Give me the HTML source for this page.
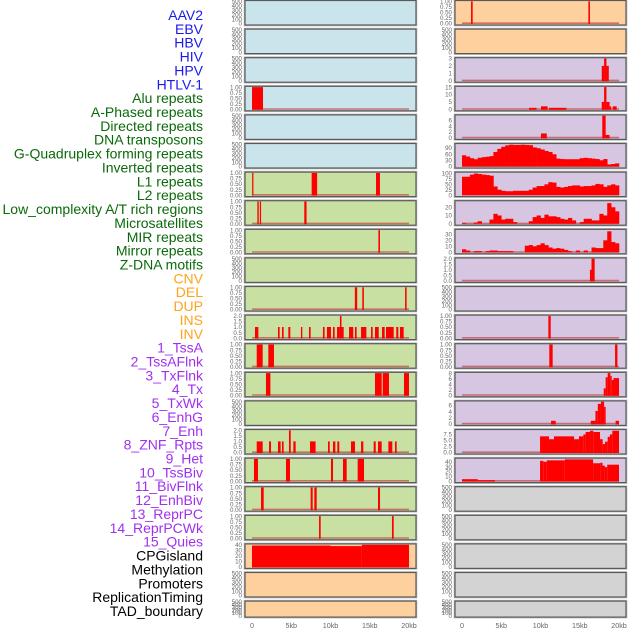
<!DOCTYPE html>
<html><head><meta charset="utf-8">
<style>
html,body{margin:0;padding:0;background:#fff;}
svg{display:block;font-family:"Liberation Sans",sans-serif;}
</style></head>
<body>
<svg id="chart" width="630" height="630" viewBox="0 0 630 630" xmlns="http://www.w3.org/2000/svg">
<g id="labels"></g>
<g id="panels"></g>
<g id="xaxis"></g>
</svg>
<script>
// ---------- data ----------
const trackLabels = ["AAV2","EBV","HBV","HIV","HPV","HTLV-1","Alu repeats","A-Phased repeats","Directed repeats","DNA transposons","G-Quadruplex forming repeats","Inverted repeats","L1 repeats","L2 repeats","Low_complexity A/T rich regions","Microsatellites","MIR repeats","Mirror repeats","Z-DNA motifs","CNV","DEL","DUP","INS","INV","1_TssA","2_TssAFlnk","3_TxFlnk","4_Tx","5_TxWk","6_EnhG","7_Enh","8_ZNF_Rpts","9_Het","10_TssBiv","11_BivFlnk","12_EnhBiv","13_ReprPC","14_ReprPCWk","15_Quies","CPGisland","Methylation","Promoters","ReplicationTiming","TAD_boundary"];
const labelGroups = [6,13,5,15,5];
const xTickValues = [0,5,10,15,20];
const xTickLabels = ["0","5kb","10kb","15kb","20kb"];

// tick sets
const tkEmpty = [0,100,200,300,400,500];
const tk01 = [0,0.25,0.5,0.75,1];
const tk02 = [0,0.5,1,1.5,2];
const tk0_3 = [0,1,2,3];
const tk0_15 = [0,5,10,15];
const tk0_6 = [0,2,4,6];
const tk0_90 = [0,30,60,90];
const tk0_100 = [0,25,50,75,100];
const tk0_20 = [0,10,20];
const tk0_30 = [0,10,20,30];
const tk0_8 = [0,2,4,6,8];
const tk0_75 = [0,2.5,5,7.5];
const tk0_40 = [0,10,20,30,40];

// segment data [startKb, endKb, value]
const segAAV2=[],segEBV=[],segHBV=[],segHPV=[],segHTLV=[];
const segHIV=[[0,1.4,1]];
const segAlu=[[0.02,0.18,1],[7.6,8.3,1],[15.8,16.3,1]];
const segAPhased=[[0.68,0.86,1],[1.0,1.15,1],[6.66,6.95,1]];
const segDirected=[[16.1,16.3,1]];
const segDNAtrans=[];
const segGQuadL=[[13.1,13.4,1],[14.05,14.25,1],[19.5,19.7,1]];
const segInvertedL=[[0.38,0.81,1],[3.31,3.52,1],[3.82,4.03,1],[4.63,4.88,1],[6.24,6.41,1],[7.26,7.47,1],[9.04,9.25,1],[9.55,10.06,1],[10.32,10.53,1],[10.83,11.2,1],[11.2,11.4,2],[11.4,11.68,1],[12.36,12.9,1],[13.12,13.33,1],[13.89,14.57,1],[15.16,15.37,1],[15.67,16.14,1],[16.56,16.9,1],[17.07,18.05,1],[18.38,18.64,1],[18.85,19.32,1]];
const segL1L=[[0.6,1.36,1],[2.08,2.8,1]];
const segL2L=[[1.78,2.34,1],[15.67,16.52,1],[16.65,17.45,1],[19.36,20,1]];
const segLowL=[];
const segMicroL=[[0.6,1.36,1],[2.17,2.42,1],[3.31,3.65,1],[3.82,4.03,1],[4.71,4.93,2],[5.27,5.56,1],[7.39,8.1,1],[9.68,9.9,1],[10.32,10.62,1],[10.87,11.12,1],[12.61,13.12,1],[13.89,14.18,1],[15.5,15.76,1],[16.05,16.52,1],[17.37,17.87,1],[18.22,18.43,1]];
const segMIRL=[[0.25,0.76,1],[4.33,4.84,1],[10.06,10.32,1],[11.59,12.06,1],[13.46,14.27,1]];
const segMirrorL=[[1.15,1.49,1],[7.47,7.73,1],[7.94,8.24,1],[16.05,16.31,1]];
const segZDNAL=[[8.54,8.75,1],[17.83,18.05,1]];
const segCNVL=[[0,10,38.5],[10,14,37.5],[14,20,39.8]];
const segDELL=[],segDUPL=[];

const segR0=[[1.15,1.36,1],[16.1,16.3,1]];
const segR1=[];
const segR2=[[17.8,18.1,2],[18.1,18.4,3],[18.4,18.7,2]];
const segR3=[[8.54,9.5,1],[10.06,10.9,2],[11.08,13.3,1],[17.8,18.1,5],[18.1,18.4,15],[18.4,18.8,5],[18.8,19.0,2],[19.2,19.7,2]];
const segR4=[[10.06,10.8,1.5],[17.87,18.3,7.5],[18.3,18.8,1]];
const profR5=[54,48,40,35,42,45,47,50,70,85,95,102,105,104,104,105,104,103,92,88,82,75,70,59,38,36,35,35,35,35,40,42,40,38,36,30,36,10,12,15];
const profR6=[85,85,95,100,98,95,93,90,40,25,20,18,18,20,20,20,20,25,35,42,42,50,60,58,38,35,38,42,45,45,40,42,42,45,52,50,38,45,50,45];
const profR7=[1,0,0,1.5,3,0,0,5,12,10,5,6,6,2,0,0,0,3,8,10,7,11,9,9,8,6,5,7,4,0,2,6,6,4,4,12,10,25,20,15];
const profR8=[5,3,0,2,2,0,2,3,3,2,2,2,2,0,0,0,11,12,10,12,15,12,8,6,7,6,4,2,0,3,0,3,0,8,7,7,20,35,17,15];
const segR9=[[16.3,16.5,1],[16.5,16.9,2]];
const segR10=[];
const segR11=[[11.0,11.3,1]];
const segR12=[[11.12,11.55,1],[19.5,19.8,1]];
const segR13=[[18.05,18.3,2.5],[18.3,18.56,6.5],[18.56,18.9,8],[18.9,19.07,7],[19.07,19.3,5.5],[19.3,20,6.2]];
const segR14=[[11.34,11.94,1],[16.4,17.0,1],[17.0,17.3,4.2],[17.3,17.7,6.5],[17.7,18.1,7.2],[18.1,18.3,5.5],[19.57,20,1]];
const segR15=[[9.94,11.08,6.7],[11.08,11.72,5.5],[11.72,14.27,6.7],[14.27,14.9,5.5],[14.9,15.46,6.7],[15.46,15.75,7.5],[15.75,16.31,8.5],[16.31,16.73,9],[16.73,17.58,8.5],[17.58,17.92,5.5],[17.92,18.22,3.5],[18.22,18.56,4.5],[18.56,18.85,6.5],[18.85,19.15,7.5],[19.15,20,9]];
const segR16=[[0,2.0,4],[2.0,4.2,2],[9.94,10.36,42],[10.36,10.8,40],[10.8,13.1,43],[13.1,16.7,45],[16.7,17.6,37],[17.6,17.9,38],[17.9,18.2,32],[18.2,18.5,29],[18.5,20,34]];
const segR17=[],segR18=[],segR19=[],segR20=[],segR21=[];

// column specs: [data, ticks, ymax, decimals, isProfile]
const leftTracks=[[segAAV2,tkEmpty,500,0],[segEBV,tkEmpty,500,0],[segHBV,tkEmpty,500,0],[segHIV,tk01,1,2],[segHPV,tkEmpty,500,0],[segHTLV,tkEmpty,500,0],
[segAlu,tk01,1,2],[segAPhased,tk01,1,2],[segDirected,tk01,1,2],[segDNAtrans,tkEmpty,500,0],[segGQuadL,tk01,1,2],[segInvertedL,tk02,2,1],[segL1L,tk01,1,2],[segL2L,tk01,1,2],[segLowL,tkEmpty,500,0],[segMicroL,tk02,2,1],[segMIRL,tk01,1,2],[segMirrorL,tk01,1,2],[segZDNAL,tk01,1,2],
[segCNVL,tk0_40,40,0],[segDELL,tkEmpty,500,0],[segDUPL,tkEmpty,500,0]];
const rightTracks=[[segR0,tk01,1,2],[segR1,tkEmpty,500,0],[segR2,tk0_3,3,0],[segR3,tk0_15,15,0],[segR4,tk0_6,7.5,0],[profR5,tk0_90,107,0,1],[profR6,tk0_100,103,0,1],[profR7,tk0_20,27,0,1],[profR8,tk0_30,37,0,1],
[segR9,tk02,2,1],[segR10,tkEmpty,500,0],[segR11,tk01,1,2],[segR12,tk01,1,2],[segR13,tk0_8,8,0],[segR14,tk0_6,7.2,0],[segR15,tk0_75,9.2,1],[segR16,tk0_40,46,0],
[segR17,tkEmpty,500,0],[segR18,tkEmpty,500,0],[segR19,tkEmpty,500,0],[segR20,tkEmpty,500,0],[segR21,tkEmpty,500,0]];

// ---------- drawing ----------
const NS="http://www.w3.org/2000/svg";
function mk(tag,attrs,parent){const e=document.createElementNS(NS,tag);for(const k in attrs)e.setAttribute(k,attrs[k]);parent.appendChild(e);return e;}
const labelColors=["#1a1aee","#0a6a0a","#ffa31a","#a030f0","#000000"];
const bgLeft=["#c9e4ea","#c8e0a2","#fed09e"];
const bgRight=["#fed09e","#d6c6e2","#d3d3d3"];
const colX=[{px:245,x0:252,tx:242},{px:455,x0:462,tx:452}];
const PW=171, KBPX=7.85;
function xScale(col,kb){return colX[col].x0+kb*KBPX;}

const gL=document.getElementById('labels');
let li=0;
labelGroups.forEach((n,g)=>{for(let k=0;k<n;k++){
  const t=mk('text',{x:203,y:20+li*13.86,'text-anchor':'end','font-size':14,fill:labelColors[g]},gL);
  t.textContent=trackLabels[li];
  
  
  li++;}});

const gP=document.getElementById('panels');
function bgFor(col,r){
  if(col===0) return r<6?bgLeft[0]:(r<19?bgLeft[1]:bgLeft[2]);
  return r<2?bgRight[0]:(r<17?bgRight[1]:bgRight[2]);
}
[leftTracks,rightTracks].forEach((tracks,col)=>{
  tracks.forEach((tr,r)=>{
    const [data,ticks,ymax,dec,isProf]=tr;
    const T=0.5+r*28.6, H=(r===21)?16:24.5;
    const g=mk('g',{},gP);
    
    
    mk('rect',{x:colX[col].px-0.8,y:T-0.8,width:PW+1.6,height:H+1.6,fill:'none',stroke:'#bbb','stroke-width':1},g);
    const bg=mk('rect',{x:colX[col].px,y:T,width:PW,height:H,fill:bgFor(col,r)},g);
    
    
    const y0=T+H-1.5, ytop=T+0.8;
    const yS=v=>y0-(v/ymax)*(y0-ytop);
    // ticks
    ticks.forEach(v=>{
      const t=mk('text',{x:colX[col].tx,y:yS(v)+2.2,'text-anchor':'end','font-size':6.2,fill:'#666'},g);
      t.textContent=v.toFixed(dec);
      
      
    });
    const hasData=isProf?true:data.length>0;
    if(hasData){
      const bl=mk('line',{x1:xScale(col,0),x2:xScale(col,20),y1:y0-0.3,y2:y0-0.3,stroke:'rgba(190,60,60,0.65)','stroke-width':1.6},g);
      
      
    }
    if(isProf){
      data.forEach((v,i)=>{
        if(v<=0)return;
        const x1=xScale(col,i*0.5), x2=xScale(col,(i+1)*0.5);
        const b=mk('rect',{x:x1,y:yS(v),width:x2-x1+0.3,height:y0-yS(v),fill:'#ff0000'},g);
        
        
      });
    } else {
      data.forEach(s=>{
        const x1=xScale(col,s[0]), x2=xScale(col,s[1]);
        const b=mk('rect',{x:x1,y:yS(s[2]),width:Math.max(x2-x1,1.2),height:y0-yS(s[2])+0.5,fill:'#ff0000'},g);
        
        
      });
    }
    const br=mk('rect',{x:colX[col].px,y:T,width:PW,height:H,fill:'none',stroke:'#5a5a5a','stroke-width':1.2},g);
    
    
  });
});

const gX=document.getElementById('xaxis');
[0,1].forEach(col=>{
  xTickValues.forEach((v,i)=>{
    const t=mk('text',{x:xScale(col,v),y:628,'text-anchor':'middle','font-size':7.2,fill:'#666'},gX);
    t.textContent=xTickLabels[i];
    
    
  });
});
</script>
</body></html>
